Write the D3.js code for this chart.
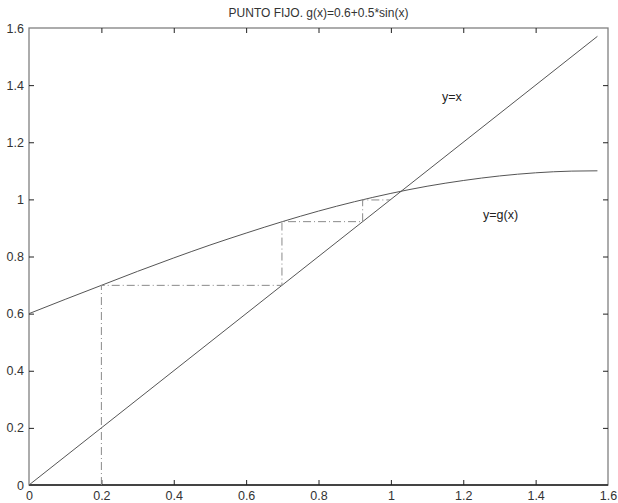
<!DOCTYPE html>
<html>
<head>
<meta charset="utf-8">
<script src="https://cdn.jsdelivr.net/npm/d3@7"></script>
<style>
  body { margin: 0; background: #fff; overflow: hidden; }
  svg { display: block; }
  text { font-family: "Liberation Sans", Arial, sans-serif; fill: #222; }
</style>
</head>
<body>
<svg width="618" height="503"></svg>
<script>
// points
var xs = [0, 0.1, 0.2, 0.3, 0.4, 0.5, 0.6, 0.7, 0.8, 0.9, 1.0, 1.1, 1.2, 1.3, 1.4, 1.5, 1.5708];
var gVals = [0.600, 0.650, 0.699, 0.748, 0.795, 0.840, 0.882, 0.922, 0.959, 0.992, 1.021, 1.046, 1.066, 1.082, 1.093, 1.099, 1.100];
var idLine = [0, 1.5708];
// iteration path (dash-dot)
var webX = [0.2, 0.2, 0.699, 0.699, 0.922, 0.922, 0.998];
var webY = [0, 0.699, 0.699, 0.922, 0.922, 0.998, 0.998];
var xTicks = [0, 0.2, 0.4, 0.6, 0.8, 1, 1.2, 1.4, 1.6];
var yTicks = [0, 0.2, 0.4, 0.6, 0.8, 1, 1.2, 1.4, 1.6];

var svg = d3.select("svg");
var pLeft = 29, pRight = 608, pTop = 28, pBottom = 485;

var x = d3.scaleLinear().domain([0, 1.6]).range([pLeft, pRight]);
var y = d3.scaleLinear().domain([0, 1.6]).range([pBottom, pTop]);

svg.append("text")
  .attr("x", (pLeft + pRight) / 2).attr("y", 17)
  .attr("text-anchor", "middle")
  .style("font-size", "12px").style("fill", "#333")
  .text("PUNTO FIJO. g(x)=0.6+0.5*sin(x)");

// frame
svg.append("rect")
  .attr("x", pLeft).attr("y", pTop)
  .attr("width", pRight - pLeft).attr("height", pBottom - pTop)
  .style("fill", "none").style("stroke", "#808080").style("stroke-width", "1.3px");

// axes
var fmt = function(d) { return String(+d.toFixed(1)); };
var ax = svg.append("g").attr("transform", "translate(0," + pBottom + ")")
  .call(d3.axisBottom(x).tickValues(xTicks).tickSizeInner(-5).tickSizeOuter(0).tickPadding(6).tickFormat(fmt));
var axT = svg.append("g").attr("transform", "translate(0," + pTop + ")")
  .call(d3.axisTop(x).tickValues(xTicks).tickSizeInner(-5).tickSizeOuter(0).tickFormat(""));
var ay = svg.append("g").attr("transform", "translate(" + pLeft + ",0)")
  .call(d3.axisLeft(y).tickValues(yTicks).tickSizeInner(-5).tickSizeOuter(0).tickPadding(5).tickFormat(fmt));
var ayR = svg.append("g").attr("transform", "translate(" + pRight + ",0)")
  .call(d3.axisRight(y).tickValues(yTicks).tickSizeInner(-5).tickSizeOuter(0).tickFormat(""));

[ax, axT, ay, ayR].forEach(function(g) {
  g.select(".domain").remove();
  g.selectAll("line").style("stroke", "#222");
  g.selectAll("text").style("font-size", "12.5px").style("fill", "#333")
    .style("font-family", "'Liberation Sans', Arial, sans-serif");
});
// the first and last tick mark sit on the frame
[ax, axT, ay, ayR].forEach(function(g) {
  g.selectAll(".tick line").filter(function(d, i) { return i === 0 || i === xTicks.length - 1; }).remove();
});

svg.append("line")
  .attr("x1", pLeft).attr("x2", pRight).attr("y1", pBottom).attr("y2", pBottom)
  .style("stroke", "#222").style("stroke-width", "1.3px");

// curves
var line = d3.line().x(function(d) { return x(d[0]); }).y(function(d) { return y(d[1]); });

svg.append("path")
  .datum(idLine.map(function(v) { return [v, v]; }))
  .attr("d", line)
  .style("fill", "none").style("stroke", "#555").style("stroke-width", "1px");

svg.append("path")
  .datum(xs.map(function(v, i) { return [v, gVals[i]]; }))
  .attr("d", d3.line().x(function(d) { return x(d[0]); }).y(function(d) { return y(d[1]); }).curve(d3.curveMonotoneX))
  .style("fill", "none").style("stroke", "#555").style("stroke-width", "1px");

svg.append("path")
  .datum(webX.map(function(v, i) { return [v, webY[i]]; }))
  .attr("d", line)
  .style("fill", "none").style("stroke", "#8a8a8a").style("stroke-width", "1px")
  .style("stroke-dasharray", "8,3,1,3");

svg.append("text").attr("x", 442).attr("y", 101).style("font-size", "12.5px").text("y=x");
svg.append("text").attr("x", 483).attr("y", 219).style("font-size", "12.5px").text("y=g(x)");
</script>
</body>
</html>
